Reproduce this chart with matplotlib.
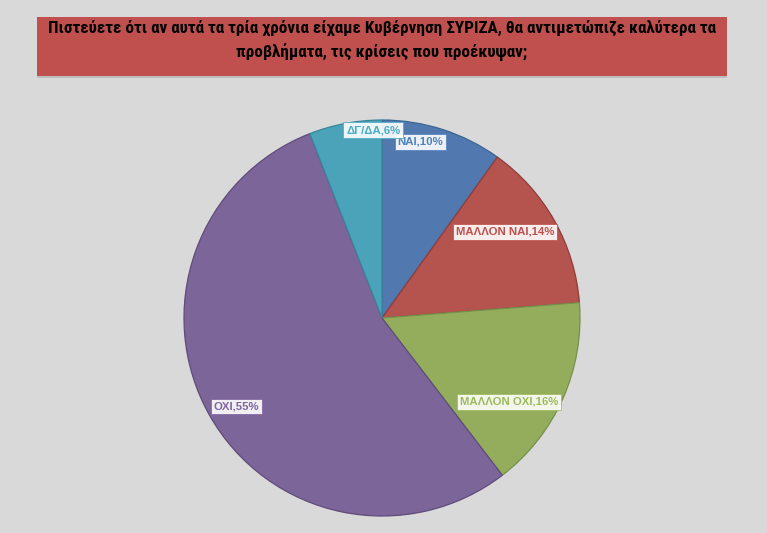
import matplotlib.pyplot as plt
import numpy as np
from matplotlib.patches import Rectangle

# Data
categories = ["ΝΑΙ", "ΜΑΛΛΟΝ ΝΑΙ", "ΜΑΛΛΟΝ ΟΧΙ", "ΟΧΙ", "ΔΓ/ΔΑ"]
values = [10, 14, 16, 55, 6]
title = ("Πιστεύετε ότι αν αυτά τα τρία χρόνια είχαμε Κυβέρνηση ΣΥΡΙΖΑ, θα αντιμετώπιζε καλύτερα τα\n"
         "προβλήματα, τις κρίσεις που προέκυψαν;")

fill_colors = ["#5179b0", "#b5534f", "#93ad5d", "#7c6599", "#4aa3b8"]
text_colors = ["#4f81bd", "#c0504d", "#9bbb59", "#8064a2", "#4bacc6"]
edge_colors = ["#3d6592", "#8f3d3a", "#76904a", "#5f4c7a", "#3a8599"]

# label placement: (radius fraction, angle shift in degrees) relative to wedge middle
label_pos = [(0.91, 5.5), (0.76, 5.5), (0.77, -9.3), (0.86, 1.9), (0.95, -8.0)]

fig = plt.figure(figsize=(7.67, 5.33), dpi=100)
fig.patch.set_facecolor("#d9d9d9")

# title box
W, H = 767, 533
fig.patches.append(Rectangle((37 / W, 1 - 78 / H), 690 / W, 2 / H, transform=fig.transFigure,
                             facecolor="#bdbdbd", edgecolor="none"))
fig.patches.append(Rectangle((37 / W, 1 - 76 / H), 690 / W, 59 / H, transform=fig.transFigure,
                             facecolor="#c0504d", edgecolor="none"))
fig.text(382 / W, 1 - 40.5 / H, title, ha="center", va="center", fontsize=12.3, fontweight="bold",
         family=["Liberation Sans Narrow", "Roboto Condensed", "DejaVu Sans"],
         linespacing=1.55, color="black")

r = 198
cx, cy = 382, 318
ax = fig.add_axes([(cx - r) / W, (H - cy - r) / H, 2 * r / W, 2 * r / H])
wedges, _ = ax.pie(values, colors=fill_colors, startangle=90, counterclock=False,
                   wedgeprops=dict(linewidth=0.9))
for w, ec in zip(wedges, edge_colors):
    w.set_edgecolor(ec)
ax.set_aspect("equal")
ax.set_xlim(-1, 1)
ax.set_ylim(-1, 1)

for w, cat, v, tc, (rf, shift) in zip(wedges, categories, values, text_colors, label_pos):
    mid = np.deg2rad((w.theta1 + w.theta2) / 2 + shift)
    x, y = rf * np.cos(mid), rf * np.sin(mid)
    ax.text(x, y, f"{cat},{v}%", ha="center", va="center", fontsize=8.2, fontweight="bold",
            family=["Liberation Sans", "DejaVu Sans"], color=tc, zorder=5,
            bbox=dict(boxstyle="square,pad=0.25", facecolor="white", alpha=0.9,
                      edgecolor=tc, linewidth=0.6))

fig.savefig("out.png", dpi=100, facecolor=fig.get_facecolor())
